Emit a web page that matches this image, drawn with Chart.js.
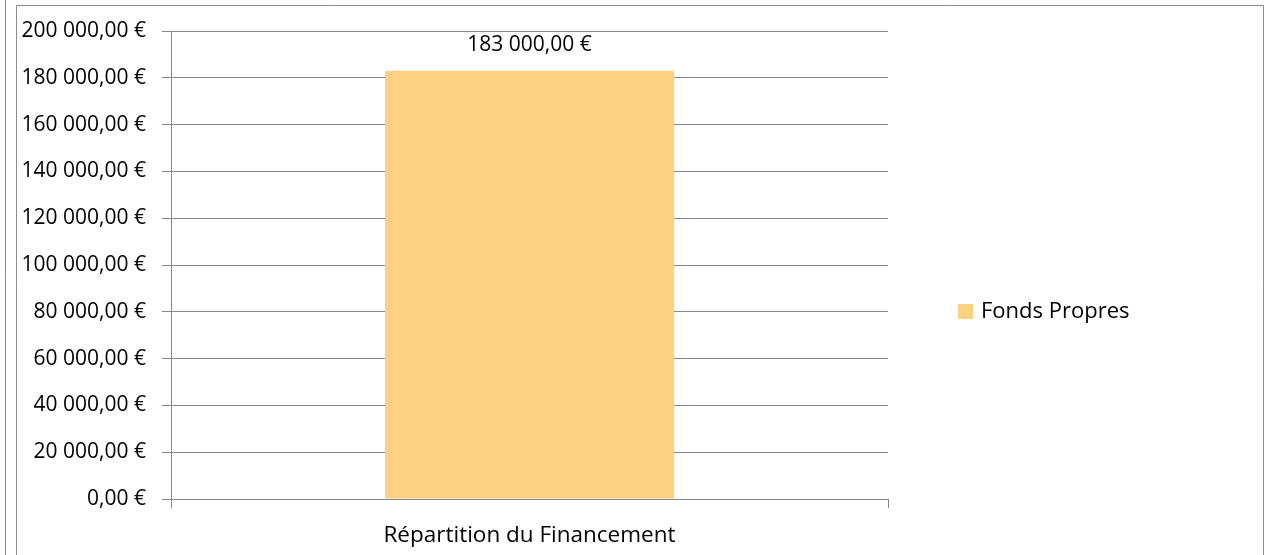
<!DOCTYPE html>
<html>
<head>
<meta charset="utf-8">
<script src="https://cdn.jsdelivr.net/npm/chart.js@4.4.0/dist/chart.umd.min.js"></script>
<style>
html,body{margin:0;padding:0;background:#fff;}
canvas{display:block;}
</style>
</head>
<body>
<canvas id="c" width="1265" height="555"></canvas>
<script>
const categories = ["Répartition du Financement"];
const seriesName = "Fonds Propres";
const seriesValues = [183000];
const yTicks = [0, 20000, 40000, 60000, 80000, 100000, 120000, 140000, 160000, 180000, 200000];

const FONT = "'Open Sans', 'Noto Sans', sans-serif";
const FS = 21;
const FS_CAT = 22.5;
const FS_LEG = 22;
const BAR = '#FDD082';
const GRID = '#888888';

function fmtEuro(v) {
  const neg = v < 0; v = Math.abs(v);
  const parts = v.toFixed(2).split('.');
  const int = parts[0].replace(/\B(?=(\d{3})+(?!\d))/g, ' ');
  return (neg ? '-' : '') + int + ',' + parts[1] + ' €';
}

const framePlugin = {
  id: 'frame',
  beforeDraw(chart) {
    const ctx = chart.ctx;
    ctx.save();
    ctx.fillStyle = '#fff';
    ctx.fillRect(0, 0, chart.width, chart.height);
    ctx.strokeStyle = '#8c8c8c';
    ctx.lineWidth = 1;
    ctx.beginPath();
    ctx.moveTo(5.5, 0); ctx.lineTo(5.5, chart.height);
    ctx.moveTo(16.5, chart.height); ctx.lineTo(16.5, 5.5); ctx.lineTo(1263.5, 5.5); ctx.lineTo(1263.5, chart.height);
    ctx.stroke();
    ctx.restore();
  }
};

const labelPlugin = {
  id: 'labels',
  afterDatasetsDraw(chart) {
    const ctx = chart.ctx;
    ctx.save();
    ctx.font = FS + 'px ' + FONT;
    ctx.fillStyle = '#000';
    ctx.textAlign = 'center';
    ctx.textBaseline = 'middle';
    chart.getDatasetMeta(0).data.forEach((bar, i) => {
      ctx.fillText(fmtEuro(chart.data.datasets[0].data[i]), bar.x, bar.y - 26);
    });
    // legend
    const ds = chart.data.datasets[0];
    const lx = 958, ly = 312;
    ctx.fillStyle = ds.backgroundColor;
    ctx.fillRect(lx, ly - 8, 15, 15);
    ctx.fillStyle = '#000';
    ctx.textAlign = 'left';
    ctx.font = FS_LEG + 'px ' + FONT;
    ctx.fillText(ds.label, 981, ly);
    ctx.restore();
  }
};

new Chart(document.getElementById('c'), {
  type: 'bar',
  data: {
    labels: categories,
    datasets: [{
      label: seriesName,
      data: seriesValues,
      backgroundColor: BAR,
      borderWidth: 0,
      categoryPercentage: 0.403,
      barPercentage: 1.0
    }]
  },
  options: {
    responsive: false,
    animation: false,
    devicePixelRatio: 1,
    layout: { padding: { left: 0, top: 31, right: 377, bottom: 0 } },
    plugins: { legend: { display: false }, tooltip: { enabled: false } },
    scales: {
      x: {
        afterFit(s) { s.height = 56; },
        grid: { display: true, drawOnChartArea: false, color: GRID, tickLength: 9, offset: true },
        border: { display: true, color: GRID, width: 1 },
        ticks: { color: '#000', font: { family: FONT, size: FS_CAT }, padding: 14 }
      },
      y: {
        min: 0, max: 200000,
        afterFit(s) { s.width = 171; },
        afterBuildTicks(s) { s.ticks = yTicks.map(v => ({ value: v })); },
        grid: { color: GRID, tickLength: 9, lineWidth: 1 },
        border: { display: true, color: GRID, width: 1 },
        ticks: { color: '#000', font: { family: FONT, size: FS }, padding: 16, callback: v => fmtEuro(v) }
      }
    }
  },
  plugins: [framePlugin, labelPlugin]
});
</script>
</body>
</html>
